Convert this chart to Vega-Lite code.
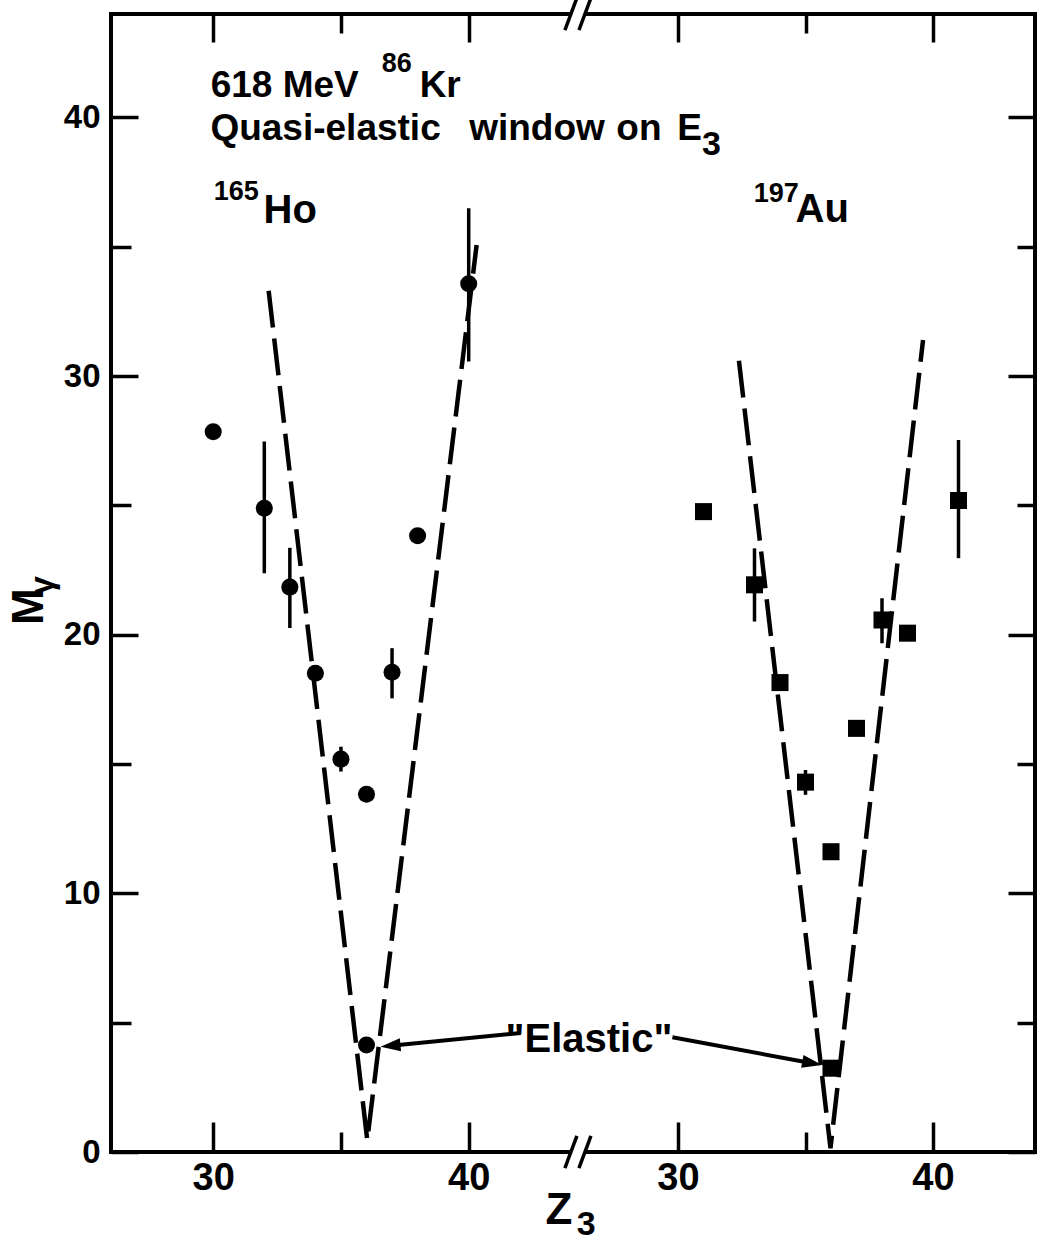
{
  "$schema": "https://vega.github.io/schema/vega-lite/v6.json",
  "width": 924,
  "height": 1138,
  "autosize": {"type": "none"},
  "padding": {"left": 111, "top": 14, "right": 7, "bottom": 90},
  "background": "white",
  "config": {
    "view": {"stroke": "black", "strokeWidth": 4},
    "font": "Liberation Sans",
    "axis": {"domain": false, "grid": false, "tickColor": "black", "tickWidth": 3.5, "labelColor": "black", "labelFont": "Liberation Sans", "labelFontWeight": "bold"}
  },
  "datasets": {
    "points": [
      {"target": "165Ho", "Z": 30, "M": 27.85},
      {"target": "165Ho", "Z": 32, "M": 24.89, "lo": 22.38, "hi": 27.47},
      {"target": "165Ho", "Z": 33, "M": 21.84, "lo": 20.26, "hi": 23.36},
      {"target": "165Ho", "Z": 34, "M": 18.51},
      {"target": "165Ho", "Z": 35, "M": 15.19, "lo": 14.71, "hi": 15.67},
      {"target": "165Ho", "Z": 36, "M": 13.83},
      {"target": "165Ho", "Z": 37, "M": 18.55, "lo": 17.54, "hi": 19.48},
      {"target": "165Ho", "Z": 38, "M": 23.83},
      {"target": "165Ho", "Z": 40, "M": 33.57, "lo": 30.56, "hi": 36.49},
      {"target": "165Ho", "Z": 36, "M": 4.14},
      {"target": "197Au", "Z": 31, "M": 24.76},
      {"target": "197Au", "Z": 33, "M": 21.93, "lo": 20.51, "hi": 23.34},
      {"target": "197Au", "Z": 34, "M": 18.15},
      {"target": "197Au", "Z": 35, "M": 14.3, "lo": 13.81, "hi": 14.77},
      {"target": "197Au", "Z": 36, "M": 11.61},
      {"target": "197Au", "Z": 36, "M": 3.24},
      {"target": "197Au", "Z": 37, "M": 16.38},
      {"target": "197Au", "Z": 38, "M": 20.57, "lo": 19.67, "hi": 21.41},
      {"target": "197Au", "Z": 39, "M": 20.06},
      {"target": "197Au", "Z": 41, "M": 25.19, "lo": 22.96, "hi": 27.53}
    ],
    "vlines": [
      {"target": "165Ho", "Z": 32.17, "M": 33.3},
      {"target": "165Ho", "Z": 36.03, "M": 0.46},
      {"target": "165Ho", "Z": 40.31, "M": 35.07},
      {"target": "197Au", "Z": 32.39, "M": 30.59},
      {"target": "197Au", "Z": 35.98, "M": 0.15},
      {"target": "197Au", "Z": 39.61, "M": 31.4}
    ],
    "notes": [
      {"panel": "left", "text": "618 MeV", "Z": 29.9, "M": 40.8, "role": "main"},
      {"panel": "left", "text": "86", "Z": 36.6, "M": 41.76, "role": "sup"},
      {"panel": "left", "text": "Kr", "Z": 38.08, "M": 40.8, "role": "main"},
      {"panel": "left", "text": "Quasi-elastic", "Z": 29.89, "M": 39.13, "role": "main"},
      {"panel": "left", "text": "window", "Z": 40.02, "M": 39.13, "role": "main"},
      {"panel": "left", "text": "on", "Z": 45.78, "M": 39.13, "role": "main"},
      {"panel": "left", "text": "E", "Z": 48.16, "M": 39.13, "role": "main"},
      {"panel": "left", "text": "3", "Z": 49.13, "M": 38.55, "role": "sub"},
      {"panel": "left", "text": "165", "Z": 30.02, "M": 36.81, "role": "sup"},
      {"panel": "left", "text": "Ho", "Z": 31.97, "M": 35.92, "role": "element"},
      {"panel": "left", "text": "\"Elastic\"", "Z": 41.44, "M": 3.87, "role": "callout"},
      {"panel": "left", "text": "M", "Z": 23.34, "M": 20.38, "role": "title-y"},
      {"panel": "left", "text": "γ", "Z": 23.73, "M": 21.54, "role": "title-y-sub"},
      {"panel": "left", "text": "Z", "Z": 43.01, "M": -2.78, "role": "title-x"},
      {"panel": "left", "text": "3", "Z": 44.23, "M": -3.22, "role": "sub"}
    ],
    "notesRight": [
      {"panel": "right", "text": "197", "Z": 32.97, "M": 36.74, "role": "sup"},
      {"panel": "right", "text": "Au", "Z": 34.61, "M": 35.96, "role": "element"}
    ],
    "arrows": [
      {"panel": "left", "Z": 42.04, "M": 4.6, "Z_head": 36.94, "M_head": 4.11},
      {"panel": "right", "Z": 29.78, "M": 4.44, "Z_head": 35.26, "M_head": 3.43}
    ],
    "breakgap": [
      {"Z": 44.0, "M": 0, "Z2": 44.55, "M2": 0},
      {"Z": 44.0, "M": 44, "Z2": 44.55, "M2": 44}
    ],
    "slashes": [
      {"Z": 43.765, "M": -0.62, "Z2": 44.235, "M2": 0.62},
      {"Z": 44.315, "M": -0.62, "Z2": 44.785, "M2": 0.62},
      {"Z": 43.765, "M": 43.38, "Z2": 44.235, "M2": 44.62},
      {"Z": 44.315, "M": 43.38, "Z2": 44.785, "M2": 44.62}
    ]
  },
  "layer": [
    {
      "data": {"name": "points"},
      "transform": [{"filter": "datum.target === '165Ho'"}],
      "mark": {"type": "point", "shape": "circle", "filled": true, "size": 290, "color": "black", "opacity": 1},
      "encoding": {
        "x": {"field": "Z", "type": "quantitative", "scale": {"domain": [26, 44.2], "range": [0, 465], "nice": false, "zero": false},
          "axis": {"orient": "bottom", "values": [30, 35, 40], "labelExpr": "datum.value % 10 === 0 ? datum.label : ''", "tickSize": {"condition": {"test": "datum.value % 10 === 0", "value": -30}, "value": -20}, "labelFontSize": 38, "labelPadding": 37, "title": null}},
        "y": {"field": "M", "type": "quantitative", "scale": {"domain": [0, 44], "nice": false, "zero": false},
          "axis": {"orient": "left", "values": [0, 5, 10, 15, 20, 25, 30, 35, 40], "labelExpr": "datum.value % 10 === 0 ? datum.label : ''", "tickSize": {"condition": {"test": "datum.value % 10 === 0", "value": -27}, "value": -20}, "labelFontSize": 33, "labelPadding": 38, "title": null}}
      }
    },
    {
      "data": {"name": "points"},
      "transform": [{"filter": "datum.target === '197Au'"}],
      "mark": {"type": "point", "shape": "square", "filled": true, "size": 290, "color": "black", "opacity": 1},
      "encoding": {
        "x": {"field": "Z", "type": "quantitative", "scale": {"domain": [26, 44], "range": [465, 924], "nice": false, "zero": false},
          "axis": {"orient": "bottom", "values": [30, 35, 40], "labelExpr": "datum.value % 10 === 0 ? datum.label : ''", "tickSize": {"condition": {"test": "datum.value % 10 === 0", "value": -30}, "value": -20}, "labelFontSize": 38, "labelPadding": 37, "title": null}},
        "y": {"field": "M", "type": "quantitative", "scale": {"domain": [0, 44], "nice": false, "zero": false},
          "axis": {"orient": "right", "values": [0, 5, 10, 15, 20, 25, 30, 35, 40], "labels": false, "tickSize": {"condition": {"test": "datum.value % 10 === 0", "value": -27}, "value": -18}, "title": null}}
      }
    },
    {
      "data": {"name": "vlines"},
      "transform": [{"filter": "datum.target === '165Ho'"}],
      "mark": {"type": "line", "color": "black", "strokeWidth": 4.5, "strokeDash": [37, 11]},
      "encoding": {
        "x": {"field": "Z", "type": "quantitative", "scale": {"domain": [26, 44.2], "range": [0, 465], "nice": false, "zero": false},
          "axis": {"orient": "top", "values": [30, 35, 40], "labels": false, "tickSize": {"condition": {"test": "datum.value % 10 === 0", "value": -28}, "value": -19}, "title": null}},
        "y": {"field": "M", "type": "quantitative", "scale": {"domain": [0, 44], "nice": false, "zero": false}, "axis": null}
      }
    },
    {
      "data": {"name": "vlines"},
      "transform": [{"filter": "datum.target === '197Au'"}],
      "mark": {"type": "line", "color": "black", "strokeWidth": 4.5, "strokeDash": [37, 11]},
      "encoding": {
        "x": {"field": "Z", "type": "quantitative", "scale": {"domain": [26, 44], "range": [465, 924], "nice": false, "zero": false},
          "axis": {"orient": "top", "values": [30, 35, 40], "labels": false, "tickSize": {"condition": {"test": "datum.value % 10 === 0", "value": -28}, "value": -19}, "title": null}},
        "y": {"field": "M", "type": "quantitative", "scale": {"domain": [0, 44], "nice": false, "zero": false}, "axis": null}
      }
    },
    {
      "data": {"name": "points"},
      "transform": [{"filter": "datum.target === '165Ho' && isValid(datum.lo)"}],
      "mark": {"type": "rule", "color": "black", "strokeWidth": 3.5},
      "encoding": {
        "x": {"field": "Z", "type": "quantitative", "scale": {"domain": [26, 44.2], "range": [0, 465], "nice": false, "zero": false}, "axis": null},
        "y": {"field": "lo", "type": "quantitative", "scale": {"domain": [0, 44], "nice": false, "zero": false}, "axis": null},
        "y2": {"field": "hi"}
      }
    },
    {
      "data": {"name": "points"},
      "transform": [{"filter": "datum.target === '197Au' && isValid(datum.lo)"}],
      "mark": {"type": "rule", "color": "black", "strokeWidth": 3.5},
      "encoding": {
        "x": {"field": "Z", "type": "quantitative", "scale": {"domain": [26, 44], "range": [465, 924], "nice": false, "zero": false}, "axis": null},
        "y": {"field": "lo", "type": "quantitative", "scale": {"domain": [0, 44], "nice": false, "zero": false}, "axis": null},
        "y2": {"field": "hi"}
      }
    },
    {
      "data": {"name": "arrows"},
      "transform": [{"filter": "datum.panel === 'left'"}],
      "mark": {"type": "rule", "color": "black", "strokeWidth": 4},
      "encoding": {
        "x": {"field": "Z", "type": "quantitative", "scale": {"domain": [26, 44.2], "range": [0, 465], "nice": false, "zero": false}, "axis": null},
        "y": {"field": "M", "type": "quantitative", "scale": {"domain": [0, 44], "nice": false, "zero": false}, "axis": null},
        "x2": {"field": "Z_head"},
        "y2": {"field": "M_head"}
      }
    },
    {
      "data": {"name": "arrows"},
      "transform": [{"filter": "datum.panel === 'right'"}],
      "mark": {"type": "rule", "color": "black", "strokeWidth": 4},
      "encoding": {
        "x": {"field": "Z", "type": "quantitative", "scale": {"domain": [26, 44], "range": [465, 924], "nice": false, "zero": false}, "axis": null},
        "y": {"field": "M", "type": "quantitative", "scale": {"domain": [0, 44], "nice": false, "zero": false}, "axis": null},
        "x2": {"field": "Z_head"},
        "y2": {"field": "M_head"}
      }
    },
    {
      "data": {"name": "arrows"},
      "transform": [{"filter": "datum.panel === 'left'"}],
      "mark": {"type": "point", "shape": "M -1 0 L 1 -0.65 L 1 0.65 Z", "filled": true, "size": 400, "color": "black", "opacity": 1, "angle": 354.3},
      "encoding": {
        "x": {"field": "Z_head", "type": "quantitative", "scale": {"domain": [26, 44.2], "range": [0, 465], "nice": false, "zero": false}, "axis": null},
        "y": {"field": "M_head", "type": "quantitative", "scale": {"domain": [0, 44], "nice": false, "zero": false}, "axis": null}
      }
    },
    {
      "data": {"name": "arrows"},
      "transform": [{"filter": "datum.panel === 'right'"}],
      "mark": {"type": "point", "shape": "M -1 0 L 1 -0.65 L 1 0.65 Z", "filled": true, "size": 400, "color": "black", "opacity": 1, "angle": 190.5},
      "encoding": {
        "x": {"field": "Z_head", "type": "quantitative", "scale": {"domain": [26, 44], "range": [465, 924], "nice": false, "zero": false}, "axis": null},
        "y": {"field": "M_head", "type": "quantitative", "scale": {"domain": [0, 44], "nice": false, "zero": false}, "axis": null}
      }
    },
    {
      "data": {"name": "breakgap"},
      "mark": {"type": "rule", "color": "white", "strokeWidth": 7},
      "encoding": {
        "x": {"field": "Z", "type": "quantitative", "scale": {"domain": [26, 44.2], "range": [0, 465], "nice": false, "zero": false}, "axis": null},
        "y": {"field": "M", "type": "quantitative", "scale": {"domain": [0, 44], "nice": false, "zero": false}, "axis": null},
        "x2": {"field": "Z2"},
        "y2": {"field": "M2"}
      }
    },
    {
      "data": {"name": "slashes"},
      "mark": {"type": "rule", "color": "black", "strokeWidth": 3.5},
      "encoding": {
        "x": {"field": "Z", "type": "quantitative", "scale": {"domain": [26, 44.2], "range": [0, 465], "nice": false, "zero": false}, "axis": null},
        "y": {"field": "M", "type": "quantitative", "scale": {"domain": [0, 44], "nice": false, "zero": false}, "axis": null},
        "x2": {"field": "Z2"},
        "y2": {"field": "M2"}
      }
    },
    {
      "data": {"name": "notes"},
      "mark": {"type": "text", "align": "left", "baseline": "alphabetic", "font": "Liberation Sans", "fontWeight": "bold", "color": "black"},
      "encoding": {
        "x": {"field": "Z", "type": "quantitative", "scale": {"domain": [26, 44.2], "range": [0, 465], "nice": false, "zero": false}, "axis": null},
        "y": {"field": "M", "type": "quantitative", "scale": {"domain": [0, 44], "nice": false, "zero": false}, "axis": null},
        "text": {"field": "text"},
        "size": {"condition": [
          {"test": "datum.role === 'sup'", "value": 27},
          {"test": "datum.role === 'sub' || datum.role === 'title-y-sub'", "value": 34},
          {"test": "datum.role === 'element' || datum.role === 'callout'", "value": 40},
          {"test": "datum.role === 'title-x' || datum.role === 'title-y'", "value": 44}
        ], "value": 37},
        "angle": {"condition": {"test": "datum.role === 'title-y' || datum.role === 'title-y-sub'", "value": 270}, "value": 0}
      }
    },
    {
      "data": {"name": "notesRight"},
      "mark": {"type": "text", "align": "left", "baseline": "alphabetic", "font": "Liberation Sans", "fontWeight": "bold", "color": "black"},
      "encoding": {
        "x": {"field": "Z", "type": "quantitative", "scale": {"domain": [26, 44], "range": [465, 924], "nice": false, "zero": false}, "axis": null},
        "y": {"field": "M", "type": "quantitative", "scale": {"domain": [0, 44], "nice": false, "zero": false}, "axis": null},
        "text": {"field": "text"},
        "size": {"condition": [
          {"test": "datum.role === 'sup'", "value": 27},
          {"test": "datum.role === 'element'", "value": 40}
        ], "value": 37}
      }
    }
  ],
  "resolve": {"scale": {"x": "independent"}, "axis": {"x": "independent", "y": "independent"}}
}
